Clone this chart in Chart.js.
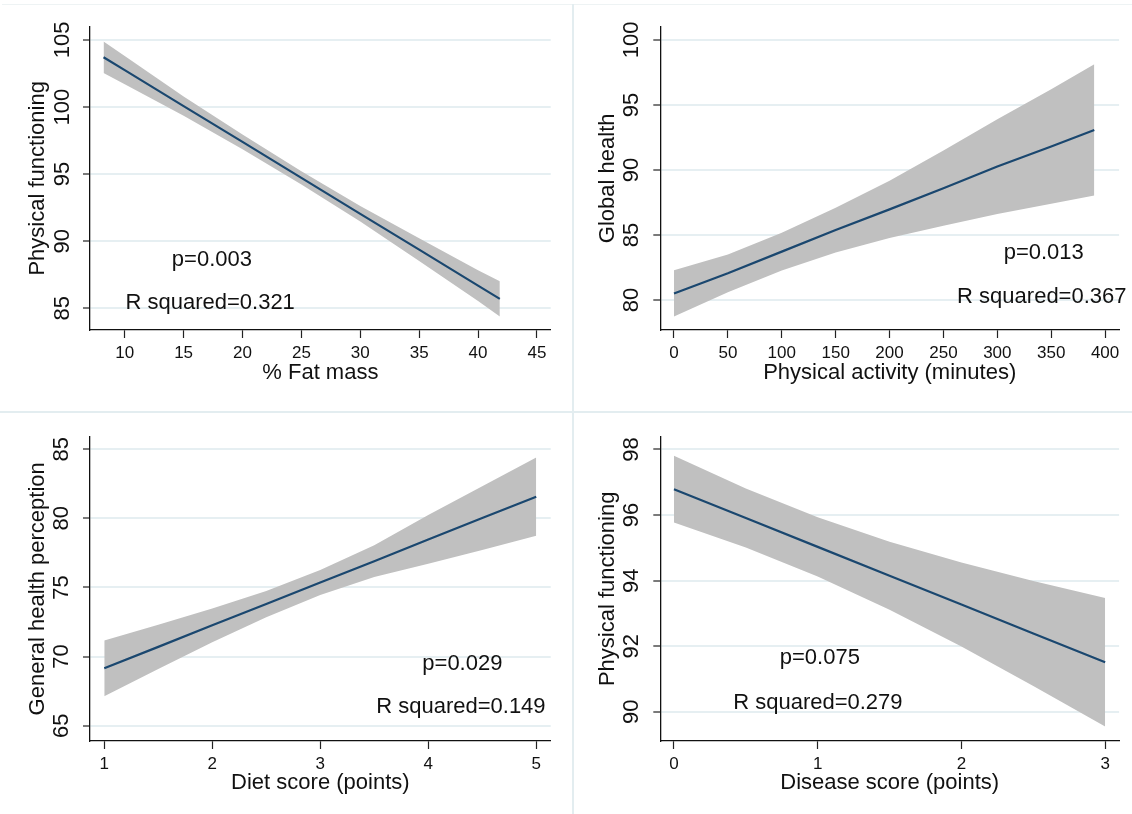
<!DOCTYPE html>
<html><head><meta charset="utf-8">
<script src="https://cdn.jsdelivr.net/npm/chart.js@4.4.1/dist/chart.umd.min.js"></script>
<style>
html,body{margin:0;padding:0;background:#fff;}
#wrap{position:relative;width:1132px;height:814px;overflow:hidden;background:#fff;}
#wrap canvas{position:absolute;}
.sep{position:absolute;background:#e3edf0;}
</style></head><body>
<div id="wrap">
  <div class="sep" style="left:2px;top:4px;width:1130px;height:1px;background:#eef3f4"></div>
  <div class="sep" style="left:572px;top:4px;width:2px;height:810px"></div>
  <div class="sep" style="left:0;top:411px;width:1132px;height:2px"></div>
  <canvas id="c1"></canvas>
  <canvas id="c2"></canvas>
  <canvas id="c3"></canvas>
  <canvas id="c4"></canvas>
</div>
<script>
// ---------- Panel 1: % Fat mass vs Physical functioning ----------
const fatX     = [8.2, 10, 15, 20, 25, 30, 35, 40, 41.85];
const fatFit   = [103.71, 102.75, 100.07, 97.40, 94.72, 92.04, 89.37, 86.69, 85.70];
const fatUpper = [104.89, 103.80, 100.79, 97.95, 95.22, 92.62, 90.22, 87.84, 87.02];
const fatLower = [102.53, 101.70, 99.35, 96.85, 94.22, 91.46, 88.52, 85.54, 84.38];
const fatXTicks = [10, 15, 20, 25, 30, 35, 40, 45];
const fatYTicks = [85, 90, 95, 100, 105];

// ---------- Panel 2: Physical activity vs Global health ----------
const actX     = [0, 50, 100, 150, 200, 250, 300, 350, 390];
const actFit   = [80.50, 82.05, 83.72, 85.38, 86.97, 88.60, 90.26, 91.80, 93.08];
const actUpper = [82.28, 83.50, 85.17, 87.10, 89.17, 91.50, 93.91, 96.20, 98.13];
const actLower = [78.72, 80.60, 82.27, 83.66, 84.77, 85.70, 86.61, 87.40, 88.03];
const actXTicks = [0, 50, 100, 150, 200, 250, 300, 350, 400];
const actYTicks = [80, 85, 90, 95, 100];

// ---------- Panel 3: Diet score vs General health perception ----------
const dietX     = [1, 1.5, 2, 2.5, 3, 3.5, 4, 4.5, 5];
const dietFit   = [69.15, 70.70, 72.26, 73.80, 75.36, 76.90, 78.47, 80.02, 81.57];
const dietUpper = [71.17, 72.30, 73.48, 74.75, 76.26, 78.05, 80.25, 82.33, 84.40];
const dietLower = [67.13, 69.10, 71.04, 72.85, 74.46, 75.75, 76.72, 77.72, 78.74];
const dietXTicks = [1, 2, 3, 4, 5];
const dietYTicks = [65, 70, 75, 80, 85];

// ---------- Panel 4: Disease score vs Physical functioning ----------
const disX     = [0, 0.5, 1, 1.5, 2, 2.5, 3];
const disFit   = [96.79, 95.91, 95.03, 94.15, 93.27, 92.39, 91.51];
const disUpper = [97.81, 96.81, 95.93, 95.19, 94.55, 93.99, 93.47];
const disLower = [95.77, 95.01, 94.13, 93.11, 91.99, 90.79, 89.55];
const disXTicks = [0, 1, 2, 3];
const disYTicks = [90, 92, 94, 96, 98];

// Annotation texts
const fatNotes  = ['p=0.003', 'R squared=0.321'];
const actNotes  = ['p=0.013', 'R squared=0.367'];
const dietNotes = ['p=0.029', 'R squared=0.149'];
const disNotes  = ['p=0.075', 'R squared=0.279'];

const FONT = "'Liberation Sans', Arial, Helvetica, sans-serif";
const TXT = '#111111';

function pts(xs, ys) { return xs.map((x, i) => ({x: x, y: ys[i]})); }

const annotPlugin = {
  id: 'annot',
  afterDatasetsDraw(chart, args, opts) {
    const ctx = chart.ctx, sx = chart.scales.x, sy = chart.scales.y;
    ctx.save();
    ctx.font = '22px ' + FONT;
    ctx.fillStyle = TXT;
    ctx.textAlign = 'left';
    ctx.textBaseline = 'middle';
    opts.items.forEach(it => ctx.fillText(it.text, sx.getPixelForValue(it.x), sy.getPixelForValue(it.y)));
    ctx.restore();
  }
};

function makeChart(p) {
  const cv = document.getElementById(p.id);
  cv.width = p.w; cv.height = p.h;
  cv.style.left = p.left + 'px'; cv.style.top = p.top + 'px';
  cv.style.width = p.w + 'px'; cv.style.height = p.h + 'px';
  new Chart(cv, {
    type: 'line',
    data: { datasets: [
      { label: 'Fit', data: pts(p.xs, p.fit), borderColor: '#1a476f', borderWidth: 2.2,
        pointRadius: 0, fill: false, tension: 0 },
      { label: 'Upper', data: pts(p.xs, p.upper), borderColor: 'rgba(0,0,0,0)', borderWidth: 0,
        backgroundColor: '#c0c0c0', pointRadius: 0, fill: '+1', tension: 0 },
      { label: 'Lower', data: pts(p.xs, p.lower), borderColor: 'rgba(0,0,0,0)', borderWidth: 0,
        pointRadius: 0, fill: false, tension: 0 }
    ]},
    options: {
      responsive: false, animation: false, devicePixelRatio: 1,
      layout: { padding: { left: 0, top: p.plotTop, right: p.w - p.plotRight, bottom: 0 } },
      plugins: { legend: { display: false }, tooltip: { enabled: false },
                 annot: { items: p.notes } },
      scales: {
        x: {
          type: 'linear', min: p.xMin, max: p.xMax,
          afterBuildTicks: s => { s.ticks = p.xTicks.map(v => ({value: v})); },
          afterFit: s => { s.height = p.h - p.plotBottom; },
          grid: { drawOnChartArea: false, tickLength: 8, tickColor: '#222', tickWidth: 1.2 },
          border: { display: true, color: '#111', width: 1.3 },
          ticks: { autoSkip: false, maxRotation: 0, padding: 5, color: TXT,
                   font: { family: FONT, size: 17 } },
          title: { display: true, text: p.xTitle, color: TXT, font: { family: FONT, size: 22 },
                   padding: { top: 0, bottom: p.xTitlePad } }
        },
        y: {
          type: 'linear', min: p.yMin, max: p.yMax,
          afterBuildTicks: s => { s.ticks = p.yTicks.map(v => ({value: v})); },
          afterFit: s => { s.width = p.axisW; },
          grid: { color: '#e6eff2', lineWidth: 2, tickLength: 7, tickColor: '#222', tickWidth: 1.2 },
          border: { display: true, color: '#111', width: 1.3 },
          ticks: { autoSkip: false, minRotation: 90, maxRotation: 90, crossAlign: 'center',
                   padding: p.yTickPad, color: TXT, font: { family: FONT, size: 22 } },
          title: { display: true, text: p.yTitle, color: TXT, font: { family: FONT, size: 22 },
                   padding: { top: 25, bottom: 0 } }
        }
      }
    },
    plugins: [annotPlugin]
  });
}

makeChart({ id: 'c1', left: 0, top: 0, w: 570, h: 410, axisW: 90, plotTop: 26.7, plotBottom: 330, plotRight: 550.7,
  xs: fatX, fit: fatFit, upper: fatUpper, lower: fatLower, xTicks: fatXTicks, yTicks: fatYTicks,
  xMin: 7.05, xMax: 46.17, yMin: 83.38, yMax: 105.99, yTickPad: 2.2, xTitlePad: 24.3,
  xTitle: '% Fat mass', yTitle: 'Physical functioning',
  notes: [{text: fatNotes[0], x: 14.0, y: 88.57}, {text: fatNotes[1], x: 10.06, y: 85.38}] });

makeChart({ id: 'c2', left: 570, top: 0, w: 562, h: 410, axisW: 90.3, plotTop: 26.7, plotBottom: 330, plotRight: 549.1,
  xs: actX, fit: actFit, upper: actUpper, lower: actLower, xTicks: actXTicks, yTicks: actYTicks,
  xMin: -12.7, xMax: 413, yMin: 77.69, yMax: 101.02, yTickPad: 3.3, xTitlePad: 24.3,
  xTitle: 'Physical activity (minutes)', yTitle: 'Global health',
  notes: [{text: actNotes[0], x: 305.9, y: 83.59}, {text: actNotes[1], x: 262.7, y: 80.26}] });

makeChart({ id: 'c3', left: 0, top: 410, w: 570, h: 404, axisW: 90, plotTop: 26.7, plotBottom: 331, plotRight: 550.7,
  xs: dietX, fit: dietFit, upper: dietUpper, lower: dietLower, xTicks: dietXTicks, yTicks: dietYTicks,
  xMin: 0.868, xMax: 5.134, yMin: 63.89, yMax: 85.91, yTickPad: 8.5, xTitlePad: 18.3,
  xTitle: 'Diet score (points)', yTitle: 'General health perception',
  notes: [{text: dietNotes[0], x: 3.945, y: 69.48}, {text: dietNotes[1], x: 3.518, y: 66.34}] });

makeChart({ id: 'c4', left: 570, top: 410, w: 562, h: 404, axisW: 90.3, plotTop: 26.7, plotBottom: 331, plotRight: 549.1,
  xs: disX, fit: disFit, upper: disUpper, lower: disLower, xTicks: disXTicks, yTicks: disYTicks,
  xMin: -0.095, xMax: 3.097, yMin: 89.11, yMax: 98.39, yTickPad: 9.5, xTitlePad: 18.3,
  xTitle: 'Disease score (points)', yTitle: 'Physical functioning',
  notes: [{text: disNotes[0], x: 0.736, y: 91.64}, {text: disNotes[1], x: 0.412, y: 90.28}] });
</script>
</body></html>
